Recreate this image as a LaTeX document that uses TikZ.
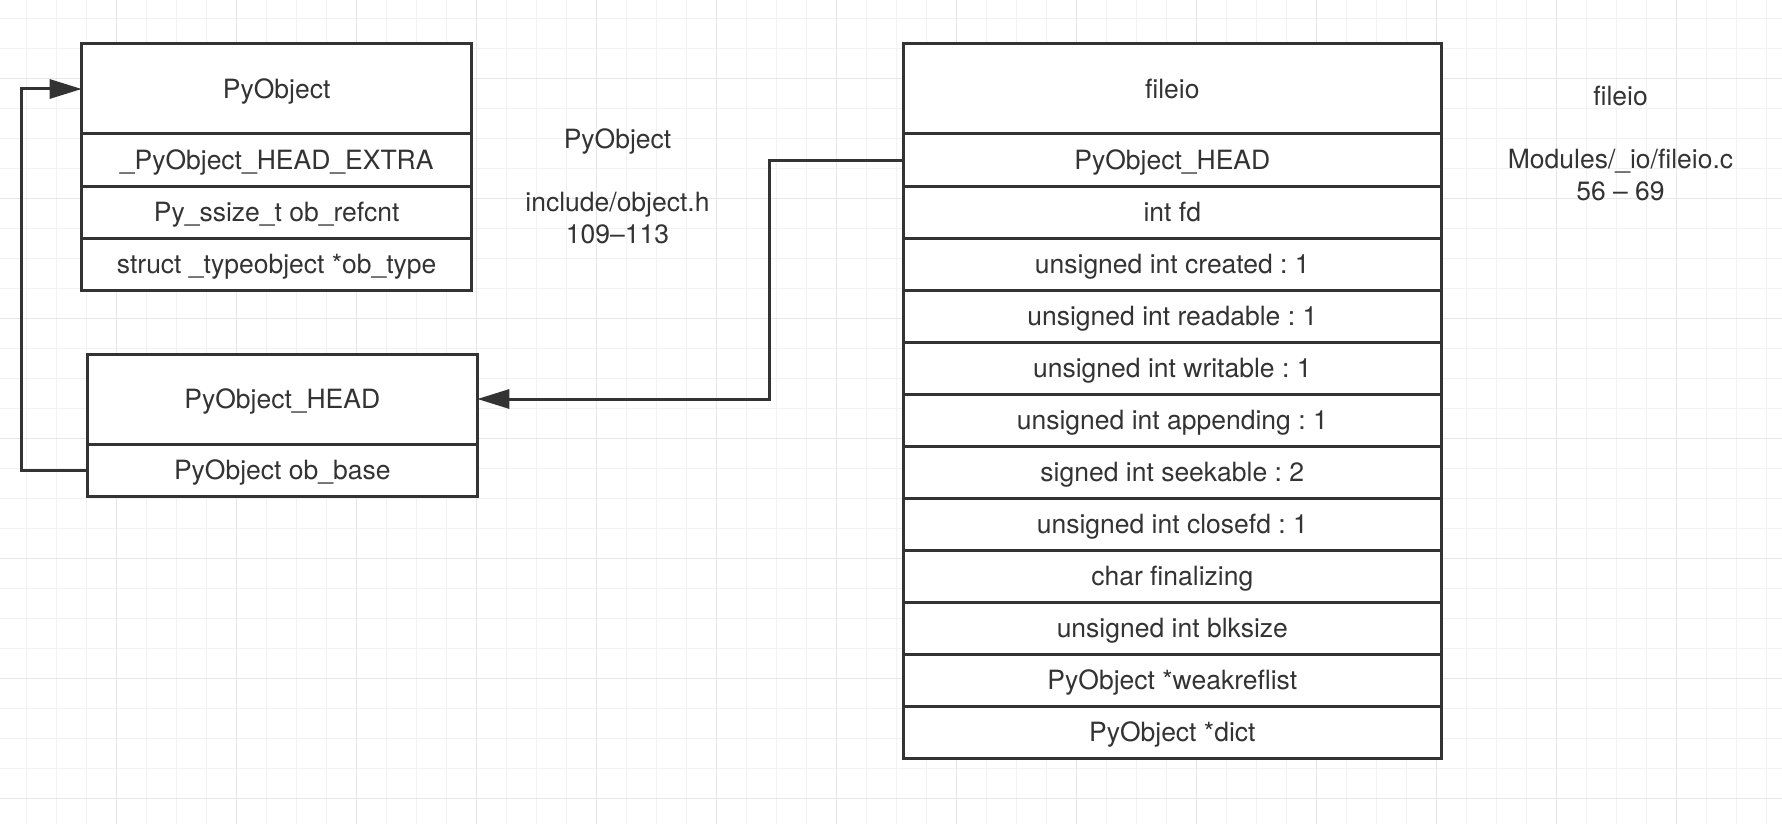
\documentclass[tikz,border=0pt]{standalone}
\usepackage{fontspec}
\setmainfont{TeX Gyre Heros}
\usetikzlibrary{positioning,arrows.meta}
\definecolor{ink}{HTML}{333333}
\definecolor{gridminor}{HTML}{F2F2F2}
\definecolor{gridmajor}{HTML}{E6E6E6}
\frenchspacing

\begin{document}
\begin{tikzpicture}[x=1pt,y=-1pt,
    font=\fontsize{26.5}{31.7}\selectfont, text=ink,
    box/.style={draw=ink, line width=3pt, fill=white, inner sep=0pt, outer sep=0pt, text height=19pt, text depth=0pt},
    header/.style={box, minimum height=90pt},
    field/.style={box, minimum height=52pt},
    narrow/.style={minimum width=390pt},
    wide/.style={minimum width=538pt},
    link/.style={draw=ink, line width=3pt, -{Triangle[length=32pt,width=19pt]}}]
  \useasboundingbox (0,0) rectangle (1782,824);
  % background grid
  \foreach \i in {0,...,58} \draw[gridminor, line width=1.5pt] ({26.7+30*\i},0) -- ++(0,824);
  \foreach \i in {0,...,26} \draw[gridminor, line width=1.5pt] (0,{18.3+30*\i}) -- ++(1782,0);
  \foreach \i in {0,...,13} \draw[gridmajor, line width=1.5pt] ({116.7+120*\i},0) -- ++(0,824);
  \foreach \i in {0,...,6} \draw[gridmajor, line width=1.5pt] (0,{78.3+120*\i}) -- ++(1782,0);

  % PyObject
  \node[header, narrow] (pyobj) at (276.7,89) {PyObject};
  \node[field, narrow, below=0pt of pyobj] (headextra) {\_PyObject\_HEAD\_EXTRA};
  \node[field, narrow, below=0pt of headextra] (refcnt) {Py\_ssize\_t ob\_refcnt};
  \node[field, narrow, below=0pt of refcnt] (obtype) {struct \_typeobject *ob\_type};

  % PyObject_HEAD
  \node[header, narrow] (pyhead) at (282.3,399) {PyObject\_HEAD};
  \node[field, narrow, below=0pt of pyhead] (obbase) {PyObject ob\_base};

  % fileio
  \node[header, wide] (fileio) at (1172.3,89) {fileio};
  \node[field, wide, below=0pt of fileio] (fhead) {PyObject\_HEAD};
  \node[field, wide, below=0pt of fhead] (ffd) {int fd};
  \node[field, wide, below=0pt of ffd] (fcreated) {unsigned int created : 1};
  \node[field, wide, below=0pt of fcreated] (freadable) {unsigned int readable : 1};
  \node[field, wide, below=0pt of freadable] (fwritable) {unsigned int writable : 1};
  \node[field, wide, below=0pt of fwritable] (fappending) {unsigned int appending : 1};
  \node[field, wide, below=0pt of fappending] (fseekable) {signed int seekable : 2};
  \node[field, wide, below=0pt of fseekable] (fclosefd) {unsigned int closefd : 1};
  \node[field, wide, below=0pt of fclosefd] (ffinalizing) {char finalizing};
  \node[field, wide, below=0pt of ffinalizing] (fblksize) {unsigned int blksize};
  \node[field, wide, below=0pt of fblksize] (fweakref) {PyObject *weakreflist};
  \node[field, wide, below=0pt of fweakref] (fdict) {PyObject *dict};

  % notes
  \node[align=center, anchor=base] (objnote) at (617.5,243.3) {PyObject\\[31.7pt]include/object.h\\109--113};
  \node[align=center, anchor=base] (fionote) at (1620.5,200.1) {fileio\\[31.7pt]Modules/\_io/fileio.c\\56 -- 69};

  % links
  \draw[link] (obbase.west) -- ++(-65.6,0) |- (pyobj.west);
  \draw[link] (fhead.west) -- ++(-134,0) |- (pyhead.east);
\end{tikzpicture}
\end{document}
